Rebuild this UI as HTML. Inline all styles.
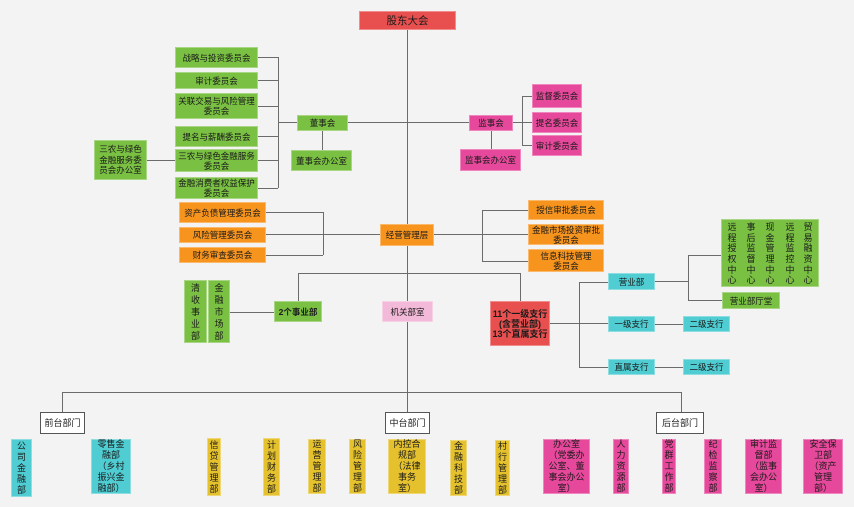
<!DOCTYPE html>
<html><head><meta charset="utf-8">
<style>
html,body{margin:0;padding:0;}
body{width:854px;height:507px;background:#f3f3f3;position:relative;overflow:hidden;font-family:"Liberation Sans","Noto Sans CJK SC",sans-serif;color:#1a1a1a;}
.b{position:absolute;display:flex;align-items:center;justify-content:center;text-align:center;font-size:8.5px;line-height:10px;box-sizing:border-box;border:1px solid rgba(255,255,255,0.35);}
.g{background:#7ac143;}
.o{background:#f7941d;}
.p{background:#e6489b;}
.lp{background:#f3b9d8;}
.r{background:#e8504f;}
.t{background:#4fcdd2;}
.y{background:#e5c22d;}
.w{background:#fff;border:1px solid #555;font-size:9px;}
.v{font-size:9px;line-height:11px;}
svg{position:absolute;left:0;top:0;}
.col{position:absolute;top:0;width:12px;height:68px;display:flex;align-items:center;justify-content:center;font-size:9px;line-height:10.7px;text-align:center;}
</style></head><body>
<svg width="854" height="507" viewBox="0 0 854 507">
<g stroke="#6b6b6b" stroke-width="1" fill="none">
<path d="M407.5 30 V412"/>
<path d="M278 122.5 H469"/>
<path d="M278.5 57 V188"/>
<path d="M258 57.5 H278 M258 80.5 H278 M258 106.5 H278 M258 136.5 H278 M258 160.5 H278 M258 188.5 H278"/>
<path d="M147 160.5 H175"/>
<path d="M322.5 131 V150"/>
<path d="M491.5 131 V149"/>
<path d="M522.5 96 V145 M513 122.5 H532 M522 96.5 H532 M522 145.5 H532"/>
<path d="M323.5 212 V255 M266 212.5 H323 M266 255.5 H323 M266 234.5 H380"/>
<path d="M434 234.5 H528 M482.5 210 V261 M482 210.5 H528 M482 261.5 H528"/>
<path d="M298.5 273.5 H520.5 M298.5 273 V301 M520.5 273 V301"/>
<path d="M230 312.5 H274"/>
<path d="M550 323.5 H579 M579.5 282 V367 M579 282.5 H608 M579 323.5 H608 M579 367.5 H608"/>
<path d="M655 324.5 H683 M655 367.5 H683"/>
<path d="M655 281.5 H688 M688.5 255 V300 M688 255.5 H721 M688 300.5 H722"/>
<path d="M62.5 392.5 H681.5 M62.5 392 V412 M681.5 392 V412"/>
</g>
</svg>

<div class="b r" style="left:359px;top:11px;width:97px;height:19px;font-size:10.5px;">股东大会</div>

<div class="b g" style="left:175px;top:47px;width:83px;height:21px;">战略与投资委员会</div>
<div class="b g" style="left:175px;top:72px;width:83px;height:17px;">审计委员会</div>
<div class="b g" style="left:175px;top:93px;width:83px;height:26px;">关联交易与风险管理<br>委员会</div>
<div class="b g" style="left:175px;top:126px;width:83px;height:21px;">提名与薪酬委员会</div>
<div class="b g" style="left:175px;top:149px;width:83px;height:23px;">三农与绿色金融服务<br>委员会</div>
<div class="b g" style="left:175px;top:177px;width:83px;height:22px;">金融消费者权益保护<br>委员会</div>
<div class="b g" style="left:94px;top:140px;width:53px;height:40px;line-height:10.5px;">三农与绿色<br>金融服务委<br>员会办公室</div>
<div class="b g" style="left:297px;top:115px;width:51px;height:16px;">董事会</div>
<div class="b g" style="left:291px;top:150px;width:61px;height:21px;">董事会办公室</div>

<div class="b p" style="left:469px;top:115px;width:44px;height:16px;">监事会</div>
<div class="b p" style="left:460px;top:149px;width:61px;height:22px;">监事会办公室</div>
<div class="b p" style="left:532px;top:84px;width:50px;height:24px;">监督委员会</div>
<div class="b p" style="left:532px;top:112px;width:50px;height:21px;">提名委员会</div>
<div class="b p" style="left:532px;top:135px;width:50px;height:21px;">审计委员会</div>

<div class="b o" style="left:179px;top:202px;width:87px;height:21px;">资产负债管理委员会</div>
<div class="b o" style="left:179px;top:227px;width:87px;height:16px;">风险管理委员会</div>
<div class="b o" style="left:179px;top:247px;width:87px;height:16px;">财务审查委员会</div>
<div class="b o" style="left:380px;top:224px;width:54px;height:22px;">经营管理层</div>
<div class="b o" style="left:528px;top:200px;width:76px;height:20px;">授信审批委员会</div>
<div class="b o" style="left:528px;top:224px;width:76px;height:21px;">金融市场投资审批<br>委员会</div>
<div class="b o" style="left:528px;top:249px;width:76px;height:23px;">信息科技管理<br>委员会</div>

<div class="b g v" style="left:184px;top:280px;width:23px;height:63px;line-height:12px;">清<br>收<br>事<br>业<br>部</div>
<div class="b g v" style="left:208px;top:280px;width:22px;height:63px;line-height:12px;">金<br>融<br>市<br>场<br>部</div>
<div class="b g" style="left:274px;top:301px;width:48px;height:21px;font-weight:bold;">2个事业部</div>
<div class="b lp" style="left:382px;top:301px;width:51px;height:21px;">机关部室</div>
<div class="b r" style="left:490px;top:301px;width:60px;height:45px;font-size:9px;font-weight:bold;">11个一级支行<br>(含营业部)<br>13个直属支行</div>

<div class="b t" style="left:608px;top:273px;width:47px;height:17px;">营业部</div>
<div class="b t" style="left:608px;top:316px;width:47px;height:16px;">一级支行</div>
<div class="b t" style="left:608px;top:359px;width:47px;height:16px;">直属支行</div>
<div class="b t" style="left:683px;top:316px;width:47px;height:16px;">二级支行</div>
<div class="b t" style="left:683px;top:359px;width:47px;height:16px;">二级支行</div>

<div class="b g" style="left:721px;top:219px;width:98px;height:68px;display:block;">
<div class="col" style="left:4px;">远<br>程<br>授<br>权<br>中<br>心</div>
<div class="col" style="left:23px;">事<br>后<br>监<br>督<br>中<br>心</div>
<div class="col" style="left:42px;">现<br>金<br>管<br>理<br>中<br>心</div>
<div class="col" style="left:62px;">远<br>程<br>监<br>控<br>中<br>心</div>
<div class="col" style="left:80px;">贸<br>易<br>融<br>资<br>中<br>心</div>
</div>
<div class="b g" style="left:722px;top:292px;width:58px;height:17px;">营业部厅堂</div>

<div class="b w" style="left:40px;top:412px;width:45px;height:22px;">前台部门</div>
<div class="b w" style="left:385px;top:412px;width:45px;height:22px;">中台部门</div>
<div class="b w" style="left:656px;top:412px;width:48px;height:22px;">后台部门</div>

<div class="b t v" style="left:11px;top:439px;width:21px;height:58px;">公<br>司<br>金<br>融<br>部</div>
<div class="b t v" style="left:91px;top:439px;width:40px;height:55px;">零售金<br>融部<br>（乡村<br>振兴金<br>融部）</div>

<div class="b y v" style="left:207px;top:438px;width:14px;height:58px;">信<br>贷<br>管<br>理<br>部</div>
<div class="b y v" style="left:263px;top:438px;width:17px;height:58px;">计<br>划<br>财<br>务<br>部</div>
<div class="b y v" style="left:308px;top:439px;width:18px;height:55px;">运<br>营<br>管<br>理<br>部</div>
<div class="b y v" style="left:349px;top:439px;width:17px;height:55px;">风<br>险<br>管<br>理<br>部</div>
<div class="b y v" style="left:388px;top:439px;width:38px;height:55px;">内控合<br>规部<br>（法律<br>事务<br>室）</div>
<div class="b y v" style="left:450px;top:440px;width:17px;height:56px;">金<br>融<br>科<br>技<br>部</div>
<div class="b y v" style="left:495px;top:440px;width:15px;height:56px;">村<br>行<br>管<br>理<br>部</div>

<div class="b p v" style="left:543px;top:439px;width:47px;height:55px;">办公室<br>（党委办<br>公室、董<br>事会办公<br>室）</div>
<div class="b p v" style="left:613px;top:439px;width:16px;height:55px;">人<br>力<br>资<br>源<br>部</div>
<div class="b p v" style="left:662px;top:439px;width:14px;height:55px;">党<br>群<br>工<br>作<br>部</div>
<div class="b p v" style="left:704px;top:439px;width:18px;height:55px;">纪<br>检<br>监<br>察<br>部</div>
<div class="b p v" style="left:745px;top:439px;width:37px;height:55px;">审计监<br>督部<br>（监事<br>会办公<br>室）</div>
<div class="b p v" style="left:803px;top:439px;width:40px;height:55px;">安全保<br>卫部<br>（资产<br>管理<br>部）</div>
</body></html>
